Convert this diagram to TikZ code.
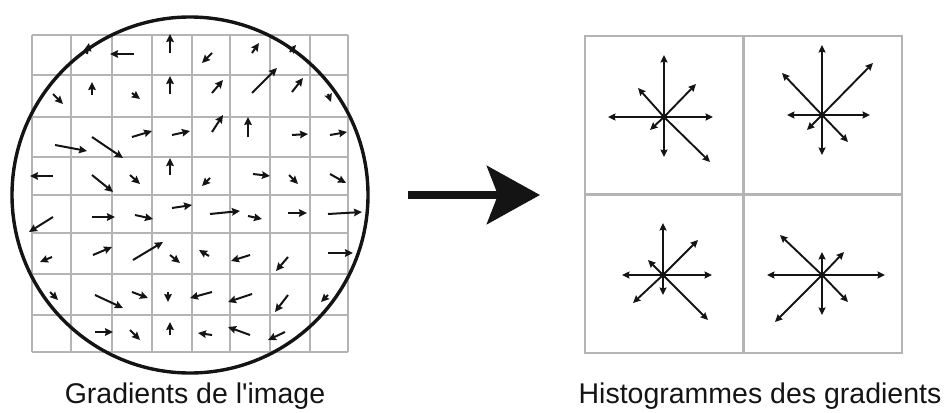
\documentclass[tikz,border=0pt]{standalone}
\usepackage{fontspec}
\setmainfont{Liberation Sans}
\usetikzlibrary{arrows.meta}
\definecolor{gridgray}{HTML}{B4B4B4}
\definecolor{inkc}{HTML}{141414}
\tikzset{
  gridline/.style={gridgray, line width=1.6pt},
  garrow/.style={inkc, line width=2pt, -{Stealth[length=8pt,width=7.5pt,inset=1pt]}},
  harrow/.style={inkc, line width=1.9pt, -{Stealth[length=7.5pt,width=7pt,inset=1pt]}},
  bigarrow/.style={inkc, line width=8pt, -{Stealth[length=53pt,width=58pt,inset=11pt]}},
  cell/.style={draw=gridgray, line width=2pt, minimum width=158pt, minimum height=159pt, inner sep=0pt},
  lbl/.style={inkc, font=\fontsize{28.5}{34}\selectfont, anchor=base, inner sep=0pt},
  hub/.style={circle, fill=inkc, inner sep=0pt, minimum size=6pt}
}
\begin{document}
\begin{tikzpicture}[x=1pt,y=-1pt]
\useasboundingbox (0,0) rectangle (947,412);
% left grid
\foreach \xx in {32,71,112,152,192,230,270,310,348}
  \draw[gridline] (\xx,35) -- (\xx,352);
\foreach \yy in {35,75,117,157,195,233,274,315,352}
  \draw[gridline] (32,\yy) -- (348,\yy);
% gradient arrows
\foreach \ax/\ay/\bx/\by in {
  87/54/89/43, 134/54/110/54, 170/53/170/34, 212/53/202/63, 252/53/259/43, 290/52/296/45,
  53/94/63/104, 92/95/92/82, 132/93/140/99, 170/94/170/76, 212/93/223/80, 252/93/277/68, 292/92/303/78, 328/94/331/102,
  55/145/87/151, 92/137/123/158, 132/137/152/131, 172/135/190/131, 212/132/223/115, 248/137/248/117, 292/135/308/134, 330/135/347/132,
  53/176/30/176, 92/175/113/192, 130/175/140/184, 170/175/170/158, 210/178/202/186, 253/174/270/176, 289/175/298/184, 330/174/346/183,
  53/217/29/232, 92/217/115/217, 135/215/153/219, 172/208/192/205, 210/214/240/211, 248/216/262/219, 288/213/307/213, 328/214/362/212,
  52/257/40/262, 93/255/112/247, 133/260/163/242, 170/255/180/263, 209/256/199/250, 250/255/231/261, 288/257/276/271, 328/253/353/253,
  50/292/58/300, 95/295/123/308, 132/292/148/298, 168/292/168/302, 212/292/190/298, 252/294/228/302, 288/295/275/312, 328/295/321/302,
  95/332/113/332, 130/330/140/340, 170/335/170/322, 212/335/198/333, 250/335/228/327, 285/332/268/340}
  \draw[garrow] (\ax,\ay) -- (\bx,\by);
% circle
\node[draw=inkc, line width=3.4pt, circle, minimum size=356pt, inner sep=0pt] (circ) at (190,195) {};
% big arrow
\coordinate (bs) at (408,195);
\coordinate (be) at (540,195);
\draw[bigarrow] (bs) -- (be);
% right cells
\node[cell] (h1) at (664,115.5) {};
\node[cell] (h2) at (822.5,115.5) {};
\node[cell] (h3) at (664,273.5) {};
\node[cell] (h4) at (822.5,273.5) {};
% histograms
\node[hub] (c1) at (664,117) {};
\node[hub] (c2) at (822,115) {};
\node[hub] (c3) at (663,275) {};
\node[hub] (c4) at (822,275) {};
\foreach \dx/\dy in {0/-62, 49/0, -56/0, 0/40, 32/-33, -26/-29, -14/13, 46/45}
  \draw[harrow] (c1.center) -- ++(\dx,\dy);
\foreach \dx/\dy in {0/-70, 48/0, -35/0, 0/40, 51/-52, -40/-42, -15/15, 26/27}
  \draw[harrow] (c2.center) -- ++(\dx,\dy);
\foreach \dx/\dy in {0/-52, 49/0, -41/0, 0/20, 35/-35, -15/-15, -30/28, 45/45}
  \draw[harrow] (c3.center) -- ++(\dx,\dy);
\foreach \dx/\dy in {0/-23, 63/0, -55/0, 0/40, 22/-23, -42/-40, -47/47, 26/27}
  \draw[harrow] (c4.center) -- ++(\dx,\dy);
% labels
\node[lbl] (t1) at (195,403) {Gradients de l\textquotesingle image};
\node[lbl] (t2) at (760,403) {Histogrammes des gradients};
\end{tikzpicture}
\end{document}
